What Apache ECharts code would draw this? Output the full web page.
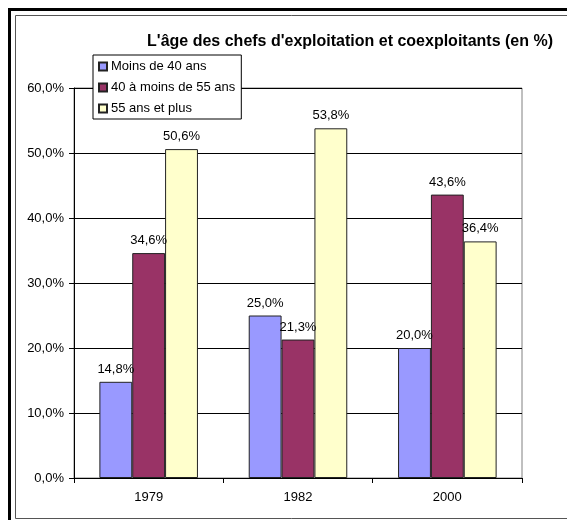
<!DOCTYPE html>
<html>
<head>
<meta charset="utf-8">
<style>
  html, body { margin: 0; padding: 0; background: #fff; }
  #chart { width: 567px; height: 520px; }
</style>
<script src="https://cdn.jsdelivr.net/npm/echarts@6/dist/echarts.min.js"></script>
</head>
<body>
<div id="chart"></div>
<script>
// Age groups of farm heads and co-operators, share in percent
const years = ['1979', '1982', '2000'];
const seriesNames = ['Moins de 40 ans', '40 à moins de 55 ans', '55 ans et plus'];
const moins40 = [14.8, 25.0, 20.0];
const de40a55 = [34.6, 21.3, 43.6];
const plus55 = [50.6, 53.8, 36.4];
const seriesColors = ['#9999FF', '#993366', '#FFFFCC'];

const FONT = '"Liberation Sans", Arial, sans-serif';
const pct = v => v.toFixed(1).replace('.', ',') + '%';

const chart = echarts.init(document.getElementById('chart'), null, { renderer: 'canvas' });

const values = [moins40, de40a55, plus55];
const series = values.map((data, i) => ({
  name: seriesNames[i],
  type: 'bar',
  data: data,
  barGap: '0%',
  barCategoryGap: '34%',
  itemStyle: { color: seriesColors[i], borderColor: '#222', borderWidth: 1 },
  label: {
    show: true,
    position: 'top',
    distance: 6,
    color: '#000',
    fontFamily: FONT,
    fontSize: 13,
    formatter: p => pct(p.value)
  }
}));

chart.setOption({
  animation: false,
  backgroundColor: '#fff',
  title: {
    text: "L'âge des chefs d'exploitation et coexploitants (en %)",
    right: 14,
    top: 34,
    padding: 0,
    textStyle: { fontFamily: FONT, fontSize: 16, fontWeight: 'bold', color: '#000' }
  },
  legend: {
    orient: 'vertical',
    left: 93,
    top: 55,
    padding: [4, 6, 3, 5],
    itemGap: 6,
    itemWidth: 8,
    itemHeight: 8,
    icon: 'rect',
    backgroundColor: '#fff',
    borderColor: '#000',
    borderWidth: 1,
    z: 10,
    data: seriesNames,
    textStyle: { fontFamily: FONT, fontSize: 13, color: '#000', lineHeight: 15, padding: [0, 0, 0, -1] }
  },
  grid: {
    left: 74, right: 45, top: 88, bottom: 42,
    show: true,
    borderColor: '#808080',
    borderWidth: 1
  },
  xAxis: {
    type: 'category',
    data: years,
    axisLine: { lineStyle: { color: '#000', width: 1 } },
    axisTick: { show: true, length: 5, lineStyle: { color: '#000' } },
    axisLabel: { color: '#000', fontFamily: FONT, fontSize: 13, margin: 13 }
  },
  yAxis: {
    type: 'value',
    min: 0,
    max: 60,
    interval: 10,
    axisLine: { show: true, lineStyle: { color: '#000', width: 1 } },
    axisTick: { show: true, length: 5, lineStyle: { color: '#000' } },
    axisLabel: { color: '#000', fontFamily: FONT, fontSize: 13, margin: 10, formatter: v => pct(v) },
    splitLine: { show: true, lineStyle: { color: '#000', width: 1 } }
  },
  series: series,
  graphic: [
    {
      type: 'rect',
      silent: true,
      z: 100,
      shape: { x: 9.5, y: 9.5, width: 620, height: 560 },
      style: { fill: null, stroke: '#000', lineWidth: 3 }
    },
    {
      type: 'rect',
      silent: true,
      z: 100,
      shape: { x: 15.5, y: 15.5, width: 620, height: 503 },
      style: { fill: null, stroke: '#555', lineWidth: 1 }
    }
  ]
});
</script>
</body>
</html>
